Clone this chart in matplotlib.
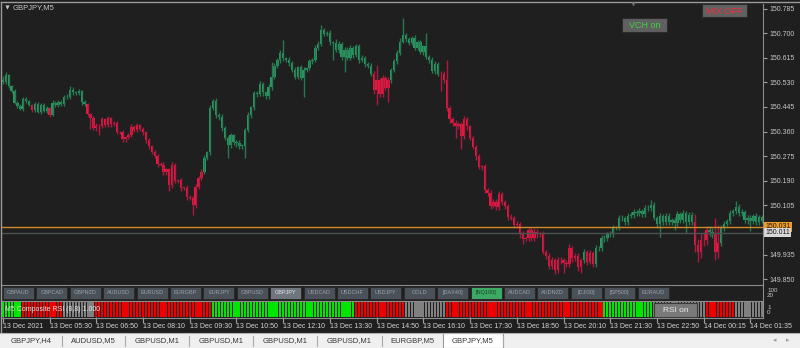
import numpy as np
import matplotlib
matplotlib.use("Agg")
import matplotlib.pyplot as plt
from matplotlib.patches import Rectangle
from matplotlib.transforms import blended_transform_factory

W, H = 800, 348
BG = "#1f1f1f"
plt.rcParams["font.family"] = ["Liberation Sans", "DejaVu Sans"]

# ---- GBPJPY M5 closes (open = previous close) ----
OPEN_FIRST = 150.538
CLOSE = [
    150.531, 150.555, 150.516, 150.500, 150.460, 150.448, 150.438, 150.472, 150.464, 150.452,
    150.434, 150.456, 150.428, 150.452, 150.432, 150.441, 150.418, 150.460, 150.450, 150.463,
    150.454, 150.480, 150.478, 150.505, 150.495, 150.492, 150.500, 150.462, 150.455, 150.420,
    150.407, 150.371, 150.380, 150.378, 150.402, 150.383, 150.406, 150.386, 150.391, 150.358,
    150.358, 150.333, 150.340, 150.349, 150.377, 150.366, 150.381, 150.368, 150.357, 150.330,
    150.310, 150.288, 150.277, 150.247, 150.246, 150.219, 150.229, 150.175, 150.244, 150.190,
    150.192, 150.165, 150.166, 150.133, 150.132, 150.106, 150.170, 150.200, 150.220, 150.270,
    150.288, 150.441, 150.465, 150.418, 150.410, 150.373, 150.339, 150.312, 150.347, 150.323,
    150.320, 150.310, 150.310, 150.365, 150.417, 150.443, 150.492, 150.490, 150.524, 150.495,
    150.482, 150.514, 150.550, 150.588, 150.606, 150.632, 150.613, 150.608, 150.598, 150.574,
    150.550, 150.582, 150.545, 150.574, 150.578, 150.602, 150.608, 150.650, 150.662, 150.711,
    150.698, 150.700, 150.668, 150.666, 150.642, 150.663, 150.617, 150.643, 150.615, 150.648,
    150.624, 150.655, 150.607, 150.615, 150.593, 150.588, 150.560, 150.503, 150.538, 150.488,
    150.545, 150.510, 150.537, 150.573, 150.602, 150.633, 150.671, 150.694, 150.678, 150.667,
    150.682, 150.650, 150.668, 150.636, 150.654, 150.618, 150.606, 150.568, 150.592, 150.560,
    150.558, 150.538, 150.441, 150.402, 150.390, 150.378, 150.385, 150.343, 150.402, 150.378,
    150.338, 150.308, 150.274, 150.238, 150.240, 150.158, 150.148, 150.104, 150.118, 150.098,
    150.145, 150.115, 150.104, 150.066, 150.062, 150.036, 150.042, 150.005, 149.990, 149.992,
    150.021, 149.991, 150.014, 150.005, 150.007, 149.945, 149.930, 149.895, 149.917, 149.882,
    149.917, 149.915, 149.905, 149.901, 149.958, 149.922, 149.931, 149.891, 149.917, 149.943,
    149.910, 149.941, 149.901, 149.959, 149.957, 149.993, 149.991, 150.007, 150.005, 150.028,
    150.029, 150.062, 150.060, 150.046, 150.069, 150.070, 150.083, 150.077, 150.086, 150.074,
    150.097, 150.095, 150.107, 150.062, 150.039, 150.069, 150.046, 150.069, 150.046, 150.055,
    150.043, 150.076, 150.053, 150.080, 150.046, 150.073, 150.046, 149.968, 149.943, 149.986,
    149.984, 150.021, 150.012, 150.007, 149.944, 149.976, 150.027, 150.042, 150.050, 150.077,
    150.084, 150.100, 150.077, 150.083, 150.053, 150.062, 150.050, 150.069, 150.046, 150.064,
    150.051,
]
# wick lengths above / below the body, in points (0.001)
WICK_UP = [
    15, 12, 5, 4, 6, 5, 7, 6, 8, 5,
    4, 6, 5, 7, 5, 6, 4, 8, 6, 5,
    7, 6, 9, 12, 8, 6, 7, 5, 6, 4,
    5, 6, 8, 5, 7, 6, 9, 5, 6, 4,
    5, 6, 4, 7, 8, 6, 10, 5, 6, 5,
    6, 5, 7, 5, 6, 8, 5, 6, 9, 7,
    5, 6, 4, 8, 6, 5, 9, 7, 10, 8,
    6, 10, 8, 12, 6, 9, 7, 5, 8, 6,
    7, 9, 6, 8, 10, 6, 7, 9, 12, 8,
    6, 9, 50, 8, 7, 10, 45, 6, 9, 7,
    8, 6, 7, 9, 6, 8, 7, 9, 10, 17,
    8, 7, 10, 6, 12, 9, 7, 10, 8, 12,
    7, 9, 6, 8, 7, 6, 9, 10, 52, 8,
    9, 7, 10, 6, 8, 9, 12, 59, 8, 9,
    7, 10, 8, 9, 6, 45, 7, 10, 12, 9,
    8, 10, 69, 7, 9, 10, 8, 7, 12, 9,
    6, 8, 7, 9, 6, 8, 7, 10, 8, 9,
    10, 7, 8, 6, 9, 7, 8, 6, 10, 8,
    9, 7, 12, 8, 6, 9, 7, 10, 8, 6,
    9, 8, 7, 10, 12, 6, 8, 9, 7, 12,
    8, 10, 7, 9, 6, 8, 10, 7, 9, 8,
    6, 9, 10, 7, 8, 12, 9, 7, 10, 8,
    9, 10, 17, 8, 7, 9, 6, 8, 10, 7,
    8, 9, 6, 10, 7, 9, 8, 30, 20, 24,
    28, 14, 12, 16, 55, 60, 10, 9, 8, 12,
    10, 21, 9, 8, 7, 9, 8, 6, 9, 7,
    6,
]
WICK_DN = [
    6, 8, 5, 7, 6, 8, 5, 6, 7, 5,
    6, 7, 5, 8, 6, 7, 9, 5, 6, 7,
    5, 7, 6, 5, 8, 6, 7, 9, 6, 8,
    40, 7, 9, 31, 6, 8, 7, 9, 6, 8,
    7, 9, 10, 6, 8, 7, 9, 6, 10, 8,
    9, 7, 10, 8, 6, 9, 8, 20, 10, 9,
    8, 10, 7, 9, 8, 35, 9, 10, 8, 7,
    9, 8, 7, 10, 9, 12, 10, 45, 9, 10,
    12, 9, 10, 41, 8, 9, 7, 10, 8, 12,
    9, 8, 10, 7, 9, 8, 10, 9, 12, 8,
    9, 10, 8, 66, 9, 7, 10, 8, 9, 7,
    9, 8, 10, 59, 8, 9, 10, 52, 9, 8,
    10, 8, 9, 7, 10, 9, 8, 12, 52, 9,
    10, 8, 48, 9, 7, 8, 10, 6, 9, 8,
    9, 10, 8, 9, 10, 8, 9, 7, 10, 8,
    59, 10, 9, 12, 10, 41, 9, 45, 10, 12,
    9, 10, 12, 8, 10, 9, 12, 10, 9, 8,
    10, 9, 12, 10, 8, 9, 10, 12, 20, 9,
    10, 8, 9, 12, 10, 9, 12, 10, 9, 14,
    10, 12, 35, 9, 10, 12, 9, 14, 20, 10,
    12, 9, 10, 8, 9, 10, 12, 9, 8, 10,
    9, 8, 10, 9, 8, 7, 10, 9, 8, 10,
    9, 8, 10, 9, 12, 45, 9, 10, 8, 9,
    24, 9, 8, 10, 35, 9, 10, 25, 35, 20,
    18, 15, 12, 14, 28, 20, 12, 10, 9, 8,
    9, 10, 8, 9, 10, 12, 35, 9, 8, 10,
    8,
]
# candle colouring (trend state), as runs of bars
TREND_RUNS = [("up", 10), ("dn", 1), ("up", 5), ("dn", 1), ("up", 12), ("dn", 40),
              ("up", 58), ("dn", 6), ("up", 17), ("dn", 49), ("up", 1), ("dn", 3),
              ("up", 34), ("dn", 5), ("up", 2), ("dn", 2), ("up", 15)]
# composite RSI strip states, as runs of bars
RSI_RUNS = [("up", 7), ("dn", 14), ("flat", 11), ("dn", 40), ("up", 49), ("dn", 17),
            ("flat", 14), ("dn", 54), ("up", 17), ("flat", 18), ("dn", 10), ("flat", 10)]

PRICE_TICKS = [149.850, 149.935, 150.105, 150.190, 150.275, 150.360,
               150.445, 150.530, 150.615, 150.700, 150.785]
LINE_ORANGE = 150.031
LINE_GRAY = 150.011

TIME_LABELS = ["13 Dec 2021", "13 Dec 05:30", "13 Dec 06:50", "13 Dec 08:10", "13 Dec 09:30",
               "13 Dec 10:50", "13 Dec 12:10", "13 Dec 13:30", "13 Dec 14:50", "13 Dec 16:10",
               "13 Dec 17:30", "13 Dec 18:50", "13 Dec 20:10", "13 Dec 21:30", "13 Dec 22:50",
               "14 Dec 00:15", "14 Dec 01:35"]
BARS_PER_LABEL = 16

BUTTONS = ["GBPAUD", "GBPCAD", "GBPNZD", "AUDUSD", "EURUSD", "EURGBP", "EURJPY", "GBPUSD",
           "GBPJPY", "USDCAD", "USDCHF", "USDJPY", "GOLD", "[DAX40]", "[NQ100]", "AUDCAD",
           "AUDNZD", "[DJI30]", "[SP500]", "EURAUD"]
TABS = ["GBPJPY,H4", "AUDUSD,M5", "GBPUSD,M1", "GBPUSD,M1", "GBPUSD,M1", "GBPUSD,M1",
        "EURGBP,M5", "GBPJPY,M5"]

# price scale of the main window (bottom / top edge)
PRICE_LOW, PRICE_HIGH = 149.8366, 150.8006
X_LIM = (-0.3, 260.3)


def rect(x0, y0, x1, y1):
    return [x0 / W, 1 - y1 / H, (x1 - x0) / W, (y1 - y0) / H]


def expand(pairs):
    out = []
    for state, n in pairs:
        out += [state] * n
    return out


def clean(a):
    a.set_facecolor("none")
    for s in a.spines.values():
        s.set_visible(False)


fig = plt.figure(figsize=(W / 100, H / 100), dpi=100, facecolor=BG)

# ---- main candle window ----
ax = fig.add_axes(rect(2, 4, 763, 283))
clean(ax)
ax.set_xlim(*X_LIM)
ax.set_ylim(PRICE_LOW, PRICE_HIGH)
ax.tick_params(axis="x", bottom=False, labelbottom=False)
ax.yaxis.tick_right()
ax.set_yticks(PRICE_TICKS)
ax.set_yticklabels([f"{v:.3f}" for v in PRICE_TICKS])
ax.tick_params(axis="y", length=3, width=0.8, color="#a0a0a0", pad=1.5,
               labelsize=5, labelcolor="#c8c8c8")

close = np.array(CLOSE)
opens = np.concatenate([[OPEN_FIRST], close[:-1]])
top = np.maximum(opens, close)
bot = np.minimum(opens, close)
high = top + np.array(WICK_UP) * 0.001
low = bot - np.array(WICK_DN) * 0.001
idx = np.arange(len(close))
trend = expand(TREND_RUNS)
body_c = ["#2c9862" if t == "up" else "#ea1840" for t in trend]
wick_c = ["#267a50" if t == "up" else "#b01a3e" for t in trend]

ax.vlines(idx, low, high, colors=wick_c, lw=1.0)
ax.bar(idx, np.maximum(top - bot, 0.0018), bottom=bot, width=0.8,
       color=body_c, linewidth=0)

ax.axhline(LINE_ORANGE, color="#d08a26", lw=1)
ax.axhline(LINE_GRAY, color="#4c5252", lw=1)
tr = blended_transform_factory(ax.transAxes, ax.transData)
ax.text(1.003, LINE_ORANGE, f"{LINE_ORANGE:.3f}", transform=tr, fontsize=5,
        color="#1a1a1a", va="center", ha="left", clip_on=False,
        bbox=dict(boxstyle="square,pad=0.2", fc="#f09a28", ec="none"))
ax.text(1.003, LINE_GRAY, f"{LINE_GRAY:.3f}", transform=tr, fontsize=5,
        color="#1a1a1a", va="center", ha="left", clip_on=False,
        bbox=dict(boxstyle="square,pad=0.2", fc="#d8d8d8", ec="none"))

# ---- composite RSI strip ----
rx = fig.add_axes(rect(2, 302, 763, 317))
clean(rx)
rx.set_xlim(*X_LIM)
rx.set_ylim(0, 1)
rsi = expand(RSI_RUNS)
rsi_c = {"up": "#00e600", "dn": "#ee0000", "flat": "#808080"}
rx.bar(idx, 1, width=0.72, bottom=0, color=[rsi_c[s] for s in rsi], linewidth=0)
rx.set_yticks([])
rx.set_xticks(np.arange(len(TIME_LABELS)) * BARS_PER_LABEL)
rx.set_xticklabels(TIME_LABELS)
rx.tick_params(axis="x", length=4, width=0.8, color="#a0a0a0", pad=0.5,
               labelsize=5, labelcolor="#d4d4d4")
for lab in rx.get_xticklabels():
    lab.set_ha("left")
rx.text(0.004, 0.5, "M5 Composite RSI (8,8) 1.000", transform=rx.transAxes,
        fontsize=5, color="#e6e6e6", va="center", ha="left")

# ---- window furniture (pixel overlay) ----
ui = fig.add_axes([0, 0, 1, 1])
ui.set_xlim(0, W)
ui.set_ylim(H, 0)
ui.axis("off")

ui.plot([1, 1], [2, 332], color="#9a9a9a", lw=1)
ui.plot([1, W], [2, 2], color="#9a9a9a", lw=1)
ui.plot([763, 763], [4, 318], color="#8c8c8c", lw=0.8)
for yy in (284.5, 300.5, 317.5):
    ui.plot([2, 763], [yy, yy], color="#8c8c8c", lw=0.8)

# title
ui.plot([7], [7], marker="v", ms=3, color="#c8c8c8", mec="none")
ui.text(13, 7.5, "GBPJPY,M5", fontsize=5.5, color="#c8c8c8", va="center", ha="left")
ui.plot([633], [4], marker="v", ms=3, color="#707070", mec="none")

# top-right toggles
ui.add_patch(Rectangle((622, 18), 45, 14, fc="#606060", ec="#2c2c2c", lw=0.8))
ui.text(644.5, 25.5, "VCH on", fontsize=6.5, color="#3ed43e", ha="center", va="center")
ui.add_patch(Rectangle((702, 4), 45, 13, fc="#606060", ec="#2c2c2c", lw=0.8))
ui.text(724.5, 11, "MIX OFF", fontsize=6.5, color="#f0303c", ha="center", va="center")

# symbol buttons
for k, name in enumerate(BUTTONS):
    x0 = 3 + 33.4 * k
    fc, tc = "#4b5159", "#9aa2aa"
    if name == "GBPJPY":
        fc, tc = "#6f767e", "#e8e8e8"
    elif name == "[NQ100]":
        fc, tc = "#3caa64", "#1c3c28"
    ui.add_patch(Rectangle((x0, 286.5), 31, 12, fc=fc, ec="#2a2a2a", lw=0.7))
    ui.text(x0 + 15.5, 292.7, name, fontsize=4, color=tc, ha="center", va="center")

# sub-window scales
for txt, yy in (("100", 290.5), ("20", 295.5), ("1", 307.5), ("0", 312.5)):
    ui.text(767, yy, txt, fontsize=4.5, color="#c8c8c8", ha="left", va="center")

# RSI on button
ui.add_patch(Rectangle((654, 303), 43, 14, fc="#7a7a7a", ec="#3a3a3a", lw=0.8))
ui.text(675.5, 310, "RSI on", fontsize=6, color="#ececec", ha="center", va="center")

# tab bar
ui.add_patch(Rectangle((0, 333), W, 15, fc="#f0f0f0", ec="none"))
ui.plot([0, W], [333, 333], color="#b4b4b4", lw=0.8)
tab_edges = [0, 62, 125, 189, 253, 317, 382, 443, 503]
for k, name in enumerate(TABS):
    x0, x1 = tab_edges[k], tab_edges[k + 1]
    if k == len(TABS) - 1:
        ui.add_patch(Rectangle((x0, 333), x1 - x0, 15, fc="#ffffff", ec="#9a9a9a", lw=0.8))
    elif k > 0:
        ui.plot([x0, x0], [336, 346], color="#a8a8a8", lw=0.8)
    ui.text((x0 + x1) / 2, 341, name, fontsize=5.5, color="#333333", ha="center", va="center")
ui.plot([x1, x1], [336, 346], color="#a8a8a8", lw=0.8)
ui.text(775, 341, "\u25c2", fontsize=5, color="#a0a0a0", ha="center", va="center")
ui.text(788, 341, "\u25b8", fontsize=5, color="#a0a0a0", ha="center", va="center")

fig.savefig("out.png", dpi=100, facecolor=BG)
